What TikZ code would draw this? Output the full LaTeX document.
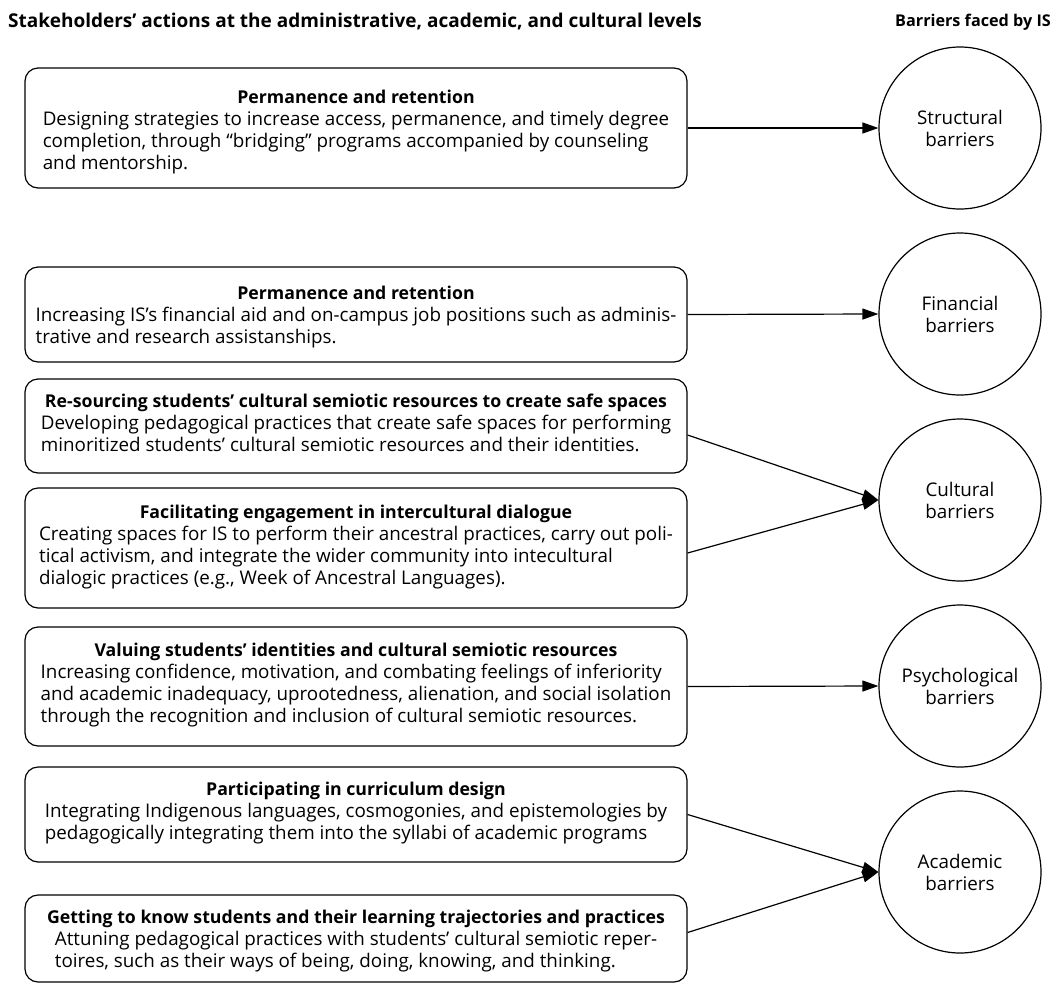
\documentclass[tikz,border=0pt]{standalone}
\usepackage{fontspec}
\setmainfont{Open Sans}
\usetikzlibrary{arrows.meta}
\newcommand\bodyfont{\fontsize{18.8}{22}\selectfont}
\newcommand\titlefont{\fontsize{17.7}{22}\selectfont\bfseries}
\newcommand\headfont{\fontsize{19}{22}\selectfont\bfseries}
\newcommand\headfontb{\fontsize{16.2}{22}\selectfont\bfseries}
\newcommand\actiontext[3][0pt]{{\titlefont\rule{0pt}{\dimexpr13pt+2\dimexpr#1\relax\relax}#2}\\\begin{tabular}[t]{@{}l@{}}#3\end{tabular}}
\begin{document}
\begin{tikzpicture}[x=1pt,y=-1pt,
  actbox/.style={draw, rounded corners=13pt, line width=1.2pt, minimum width=662pt, inner sep=0pt, align=center, font=\bodyfont},
  barrier/.style={draw, circle, line width=1.2pt, minimum size=162pt, inner sep=0pt, align=center, font=\bodyfont},
  link/.style={line width=1.2pt, -{Triangle[length=16pt,width=11pt]}},
  header/.style={inner sep=0pt}]
\useasboundingbox (0,0) rectangle (1058,986);

\node[header, font=\headfont, anchor=west] (h1) at (8,22) {Stakeholders’ actions at the administrative, academic, and cultural levels};
\node[header, font=\headfontb, anchor=east] (h2) at (1051,22) {Barriers faced by IS};

\node[actbox, minimum height=120pt] (b1) at (356,128) {\actiontext[5pt]{Permanence and retention}{Designing strategies to increase access, permanence, and timely degree\\completion, through “bridging” programs accompanied by counseling\\and mentorship.}};
\node[actbox, minimum height=95pt] (b2) at (356,314.5) {\actiontext[4pt]{Permanence and retention}{Increasing IS’s financial aid and on-campus job positions such as adminis-\\trative and research assistanships.}};
\node[actbox, minimum height=94pt] (b3) at (356,426) {\actiontext{Re-sourcing students’ cultural semiotic resources to create safe spaces}{Developing pedagogical practices that create safe spaces for performing\\minoritized students’ cultural semiotic resources and their identities.}};
\node[actbox, minimum height=120pt] (b4) at (356,548) {\actiontext{Facilitating engagement in intercultural dialogue}{Creating spaces for IS to perform their ancestral practices, carry out poli-\\tical activism, and integrate the wider community into intecultural\\dialogic practices (e.g., Week of Ancestral Languages).}};
\node[actbox, minimum height=119pt] (b5) at (356,686.5) {\actiontext{Valuing students' identities and cultural semiotic resources}{Increasing confidence, motivation, and combating feelings of inferiority\\and academic inadequacy, uprootedness, alienation, and social isolation\\through the recognition and inclusion of cultural semiotic resources.}};
\node[actbox, minimum height=95pt] (b6) at (356,814.5) {\actiontext{Participating in curriculum design}{Integrating Indigenous languages, cosmogonies, and epistemologies by\\pedagogically integrating them into the syllabi of academic programs}};
\node[actbox, minimum height=87pt] (b7) at (356,938.5) {\actiontext[4pt]{Getting to know students and their learning trajectories and practices}{Attuning pedagogical practices with students’ cultural semiotic reper-\\toires, such as their ways of being, doing, knowing, and thinking.}};

\node[barrier] (c1) at (960,128) {Structural\\barriers};
\node[barrier] (c2) at (960,314) {Financial\\barriers};
\node[barrier] (c3) at (960,500) {Cultural\\barriers};
\node[barrier] (c4) at (960,686) {Psychological\\barriers};
\node[barrier] (c5) at (960,872) {Academic\\barriers};

\draw[link] (b1.east) -- (c1.west);
\draw[link] (b2.east) -- (c2.west);
\draw[link] ([yshift=-9pt]b3.east) -- (c3.west);
\draw[link] ([yshift=-5pt]b4.east) -- (c3.west);
\draw[link] (b5.east) -- (c4.west);
\draw[link] (b6.east) -- (c5.west);
\draw[link] ([yshift=6pt]b7.east) -- (c5.west);
\end{tikzpicture}
\end{document}
